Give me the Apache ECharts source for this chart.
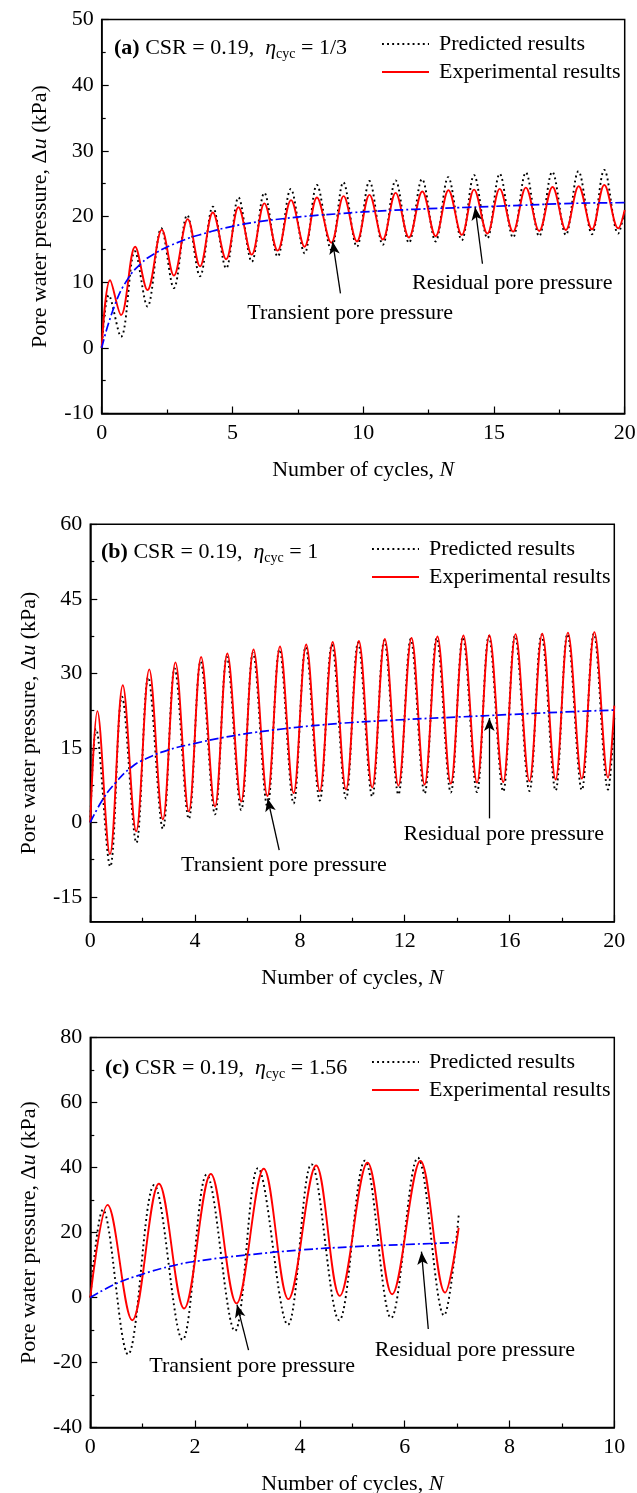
<!DOCTYPE html>
<html>
<head>
<meta charset="utf-8">
<script src="https://cdn.jsdelivr.net/npm/echarts@6/dist/echarts.min.js"></script>
<style>
html,body{margin:0;padding:0;background:#fff;}
#chart{width:637px;height:1493px;}
</style>
</head>
<body>
<div id="chart"></div>
<script>
// ---------- Panel (a): CSR = 0.19, eta = 1/3 ----------
const aExpX = [0,0.32,0.74,1.28,1.75,2.3,2.76,3.29,3.76,4.25,4.76,5.23,5.74,6.22,6.73,7.24,7.76,8.23,8.78,9.25,9.76,10.24,10.75,11.24,11.75,12.26,12.77,13.26,13.77,14.24,14.75,15.22,15.73,16.22,16.73,17.24,17.75,18.24,18.75,19.22,19.75,20.0];
const aExpY = [0,10.3,5.0,15.4,8.8,18.0,11.0,19.6,12.4,20.6,13.5,21.4,14.2,22.0,14.8,22.5,15.4,22.9,16.0,23.1,16.2,23.3,16.5,23.6,16.8,23.8,17.0,24.0,17.2,24.1,17.4,24.2,17.7,24.4,17.8,24.5,17.95,24.6,18.05,24.8,18.2,21.0];
const aPreX = [0,0.27,0.74,1.27,1.75,2.28,2.76,3.27,3.76,4.25,4.76,5.23,5.74,6.22,6.73,7.23,7.76,8.23,8.78,9.24,9.76,10.24,10.75,11.24,11.75,12.25,12.77,13.25,13.77,14.24,14.75,15.22,15.73,16.22,16.73,17.23,17.75,18.23,18.75,19.22,19.75,20.0];
const aPreY = [0,8.0,1.7,14.7,6.3,18.2,9.1,20.2,10.9,21.5,12.1,22.9,13.1,23.6,13.9,24.2,14.4,24.8,14.9,25.2,15.4,25.4,15.7,25.5,16.0,25.7,16.2,26.0,16.4,26.3,16.7,26.5,16.8,26.7,17.0,26.8,17.2,26.9,17.3,27.1,17.4,21.0];
const aResX = [0,0.5,1,1.5,2,3,4,5,6,7,8,9,10,12,14,16,18,20];
const aResY = [0,6.5,10.5,12.8,14.3,16.2,17.5,18.5,19.2,19.7,20.1,20.4,20.7,21.1,21.4,21.7,22.0,22.1];

// ---------- Panel (b): CSR = 0.19, eta = 1 ----------
const bExpX = [0,0.27,0.75,1.24,1.75,2.25,2.77,3.25,3.76,4.23,4.76,5.23,5.76,6.23,6.76,7.24,7.76,8.24,8.76,9.25,9.76,10.25,10.76,11.24,11.76,12.26,12.76,13.25,13.76,14.24,14.76,15.23,15.76,16.23,16.76,17.25,17.76,18.23,18.76,19.24,19.76,20.0];
const bExpY = [0,22.4,-6.4,27.6,-1.8,30.8,0.6,32.2,2.2,33.3,3.2,34.0,4.2,34.8,5.3,35.4,5.9,35.8,6.3,36.3,6.6,36.5,7.0,36.9,7.4,37.1,7.6,37.4,7.8,37.6,8.0,37.7,8.1,37.9,8.3,38.0,8.6,38.2,8.8,38.3,9.0,23.5];
const bPreX = [0,0.22,0.76,1.21,1.76,2.21,2.77,3.22,3.76,4.21,4.76,5.21,5.76,6.21,6.76,7.22,7.76,8.22,8.76,9.22,9.76,10.22,10.76,11.22,11.76,12.23,12.76,13.22,13.76,14.22,14.76,15.21,15.76,16.21,16.76,17.22,17.76,18.21,18.76,19.22,19.76,20.0];
const bPreY = [0,18.8,-8.9,25.3,-4.1,29.2,-1.3,31.0,0.7,32.4,1.6,33.3,2.5,34.1,3.2,34.8,3.8,35.3,4.4,35.8,4.8,36.2,5.2,36.6,5.6,36.9,5.8,37.1,6.0,37.3,6.1,37.5,6.2,37.6,6.3,37.8,6.4,37.9,6.5,38.0,6.6,21.0];
const bResX = [0,0.5,1,1.5,2,3,4,5,6,7,8,9,10,12,14,16,18,20];
const bResY = [0,4.8,8.2,10.8,12.5,14.6,15.9,17.0,17.9,18.6,19.2,19.7,20.1,20.7,21.2,21.7,22.2,22.6];

// ---------- Panel (c): CSR = 0.19, eta = 1.56 ----------
const cExpX = [0,0.33,0.8,1.31,1.79,2.3,2.79,3.31,3.78,4.31,4.76,5.29,5.76,6.3,6.77,7.03];
const cExpY = [0,28.5,-7.0,35.0,-3.4,38.0,-1.8,39.6,-0.5,40.6,0.5,41.5,1.0,42.0,1.5,21.4];
const cPreX = [0,0.24,0.72,1.22,1.76,2.22,2.76,3.2,3.77,4.22,4.75,5.24,5.74,6.25,6.75,7.03];
const cPreY = [0,27.0,-17.5,34.6,-13.0,37.8,-10.3,39.8,-8.4,41.0,-7.0,42.1,-6.3,43.0,-5.5,25.2];
const cResX = [0,0.5,1,1.5,2,3,4,5,6,7];
const cResY = [0,4.3,7.2,9.5,11.1,13.1,14.6,15.6,16.3,16.9];

// ---------- Annotations (data coordinates) ----------
const annotTexts = ['Transient pore pressure', 'Residual pore pressure'];
const aTransArrow = [[9.13, 8.3], [8.83, 16.2]];
const aResArrow = [[14.56, 12.8], [14.28, 21.4]];
const aTransText = [9.5, 5.3];
const aResText = [15.7, 9.9];
const bTransArrow = [[7.21, -5.6], [6.77, 4.8]];
const bResArrow = [[15.23, 0.8], [15.23, 21.0]];
const bTransText = [7.39, -8.6];
const bResText = [15.78, -2.3];
const cTransArrow = [[3.02, -16.2], [2.8, -2.2]];
const cResArrow = [[6.45, -9.7], [6.32, 14.1]];
const cTransText = [3.09, -21.0];
const cResText = [7.34, -16.2];

// ---------- Tick labels ----------
const bYLabels = [-15, 0, 15, 30, 45, 60];
const bYMinor = [-7.5, 7.5, 22.5, 37.5, 52.5];

const panelTitles = [
  '{b|(a)} CSR = 0.19,  {i|η}{s|cyc} = 1/3',
  '{b|(b)} CSR = 0.19,  {i|η}{s|cyc} = 1',
  '{b|(c)} CSR = 0.19,  {i|η}{s|cyc} = 1.56'
];
const legendNames = ['Predicted results', 'Experimental results'];

const FONT = 'Liberation Serif';
const pair = (xs, ys) => xs.map((x, i) => [x, ys[i]]);

const richT = {
  b: {fontWeight: 'bold', fontSize: 22, fontFamily: FONT, color: '#000'},
  i: {fontStyle: 'italic', fontSize: 22, fontFamily: FONT, color: '#000'},
  s: {fontSize: 14, fontFamily: FONT, color: '#000', padding: [12, 0, 0, 0]}
};

function xAxisCfg(g, max, interval) {
  return {
    gridIndex: g, type: 'value', min: 0, max: max, interval: interval,
    name: 'Number of cycles, {i|N}', nameLocation: 'middle', nameGap: 46,
    nameTextStyle: {fontSize: 22, fontFamily: FONT, color: '#000', rich: {i: {fontStyle: 'italic', fontSize: 22, fontFamily: FONT, color: '#000'}}},
    axisLine: {onZero: false, lineStyle: {color: '#000', width: 1.5}},
    axisTick: {inside: true, length: 7, lineStyle: {color: '#000', width: 1.2}},
    minorTick: {show: true, splitNumber: 2, length: 4, lineStyle: {color: '#000', width: 1.2}},
    splitLine: {show: false},
    axisLabel: {fontSize: 22, fontFamily: FONT, color: '#000', margin: 9}
  };
}
function yAxisCfg(g, min, max, interval, gap) {
  return {
    gridIndex: g, type: 'value', min: min, max: max, interval: interval,
    name: 'Pore water pressure, Δ{i|u} (kPa)', nameLocation: 'middle', nameGap: gap,
    nameTextStyle: {fontSize: 22, fontFamily: FONT, color: '#000', rich: {i: {fontStyle: 'italic', fontSize: 22, fontFamily: FONT, color: '#000'}}},
    axisLine: {onZero: false, lineStyle: {color: '#000', width: 1.5}},
    axisTick: {inside: true, length: 7, lineStyle: {color: '#000', width: 1.2}},
    minorTick: {show: true, splitNumber: 2, length: 4, lineStyle: {color: '#000', width: 1.2}},
    splitLine: {show: false},
    axisLabel: {fontSize: 22, fontFamily: FONT, color: '#000', margin: 8}
  };
}

const yB = yAxisCfg(1, -20, 60, null, 50);
delete yB.interval;
yB.minorTick = {show: false};
yB.axisLabel.customValues = bYLabels;
yB.axisTick.customValues = bYLabels;
const yBMinor = {
  gridIndex: 1, type: 'value', min: -20, max: 60, position: 'left', offset: 0,
  axisLine: {show: false, onZero: false}, axisLabel: {show: false}, splitLine: {show: false},
  axisTick: {show: true, inside: true, length: 4, customValues: bYMinor, lineStyle: {color: '#000', width: 1.2}}
};

function panelSeries(idx, expD, preD, resD, transArrow, resArrow, transText, resText) {
  const yi = idx === 0 ? 0 : (idx === 1 ? 1 : 3);
  return [
    {
      name: legendNames[0], type: 'line', xAxisIndex: idx, yAxisIndex: yi,
      data: preD, smooth: 0.36, showSymbol: false, symbol: 'none',
      lineStyle: {color: '#000', width: 1.9, type: [1.9, 3.2]}, itemStyle: {color: '#000'}, z: 2
    },
    {
      name: legendNames[1], type: 'line', xAxisIndex: idx, yAxisIndex: yi,
      data: expD, smooth: 0.36, showSymbol: false, symbol: 'none',
      lineStyle: {color: '#ff0000', width: 1.9}, itemStyle: {color: '#ff0000'}, z: 3
    },
    {
      name: 'Residual', type: 'line', xAxisIndex: idx, yAxisIndex: yi,
      data: resD, smooth: true, showSymbol: false, symbol: 'none',
      lineStyle: {color: '#0000ff', width: 1.7, type: [9, 3, 2, 3]}, z: 4,
      markLine: {
        silent: true, symbol: ['none', 'arrow'], symbolSize: [8, 13],
        lineStyle: {color: '#000', width: 1.3, type: 'solid'}, label: {show: false},
        data: [
          [{coord: transArrow[0]}, {coord: transArrow[1]}],
          [{coord: resArrow[0]}, {coord: resArrow[1]}]
        ]
      },
      markPoint: {
        silent: true, symbol: 'circle', symbolSize: 0,
        label: {show: true, position: 'inside', formatter: '{b}', fontSize: 22, fontFamily: FONT, color: '#000'},
        data: [
          {name: annotTexts[0], coord: transText},
          {name: annotTexts[1], coord: resText}
        ]
      }
    }
  ];
}

function legendCfg(left, top) {
  return {
    data: legendNames, orient: 'vertical', left: left, top: top,
    itemWidth: 47, itemHeight: 14, itemGap: 6, selectedMode: false,
    itemStyle: {opacity: 0, borderWidth: 0},
    textStyle: {fontSize: 22, fontFamily: FONT, color: '#000', padding: [0, 0, 0, 5]}
  };
}

const chart = echarts.init(document.getElementById('chart'), null, {renderer: 'canvas'});
const option = {
  animation: false,
  backgroundColor: '#fff',
  textStyle: {fontFamily: FONT},
  title: [
    {text: panelTitles[0], left: 109, top: 30, textStyle: {fontSize: 22, fontFamily: FONT, fontWeight: 'normal', color: '#000', rich: richT}},
    {text: panelTitles[1], left: 96, top: 534, textStyle: {fontSize: 22, fontFamily: FONT, fontWeight: 'normal', color: '#000', rich: richT}},
    {text: panelTitles[2], left: 100, top: 1050, textStyle: {fontSize: 22, fontFamily: FONT, fontWeight: 'normal', color: '#000', rich: richT}}
  ],
  legend: [legendCfg(376, 28), legendCfg(366, 533), legendCfg(366, 1046)],
  grid: [
    {left: 101.7, top: 19.5, width: 523, height: 394, show: true, borderColor: '#000', borderWidth: 1.5, outerBoundsMode: 'none'},
    {left: 90.3, top: 524.3, width: 524, height: 397.4, show: true, borderColor: '#000', borderWidth: 1.5, outerBoundsMode: 'none'},
    {left: 90.3, top: 1037.5, width: 524, height: 390, show: true, borderColor: '#000', borderWidth: 1.5, outerBoundsMode: 'none'}
  ],
  xAxis: [xAxisCfg(0, 20, 5), xAxisCfg(1, 20, 4), xAxisCfg(2, 10, 2)],
  yAxis: [yAxisCfg(0, -10, 50, 10, 50), yB, yBMinor, yAxisCfg(2, -40, 80, 20, 50)],
  series: [].concat(
    panelSeries(0, pair(aExpX, aExpY), pair(aPreX, aPreY), pair(aResX, aResY), aTransArrow, aResArrow, aTransText, aResText),
    panelSeries(1, pair(bExpX, bExpY), pair(bPreX, bPreY), pair(bResX, bResY), bTransArrow, bResArrow, bTransText, bResText),
    panelSeries(2, pair(cExpX, cExpY), pair(cPreX, cPreY), pair(cResX, cResY), cTransArrow, cResArrow, cTransText, cResText)
  )
};
chart.setOption(option);
</script>
</body>
</html>
